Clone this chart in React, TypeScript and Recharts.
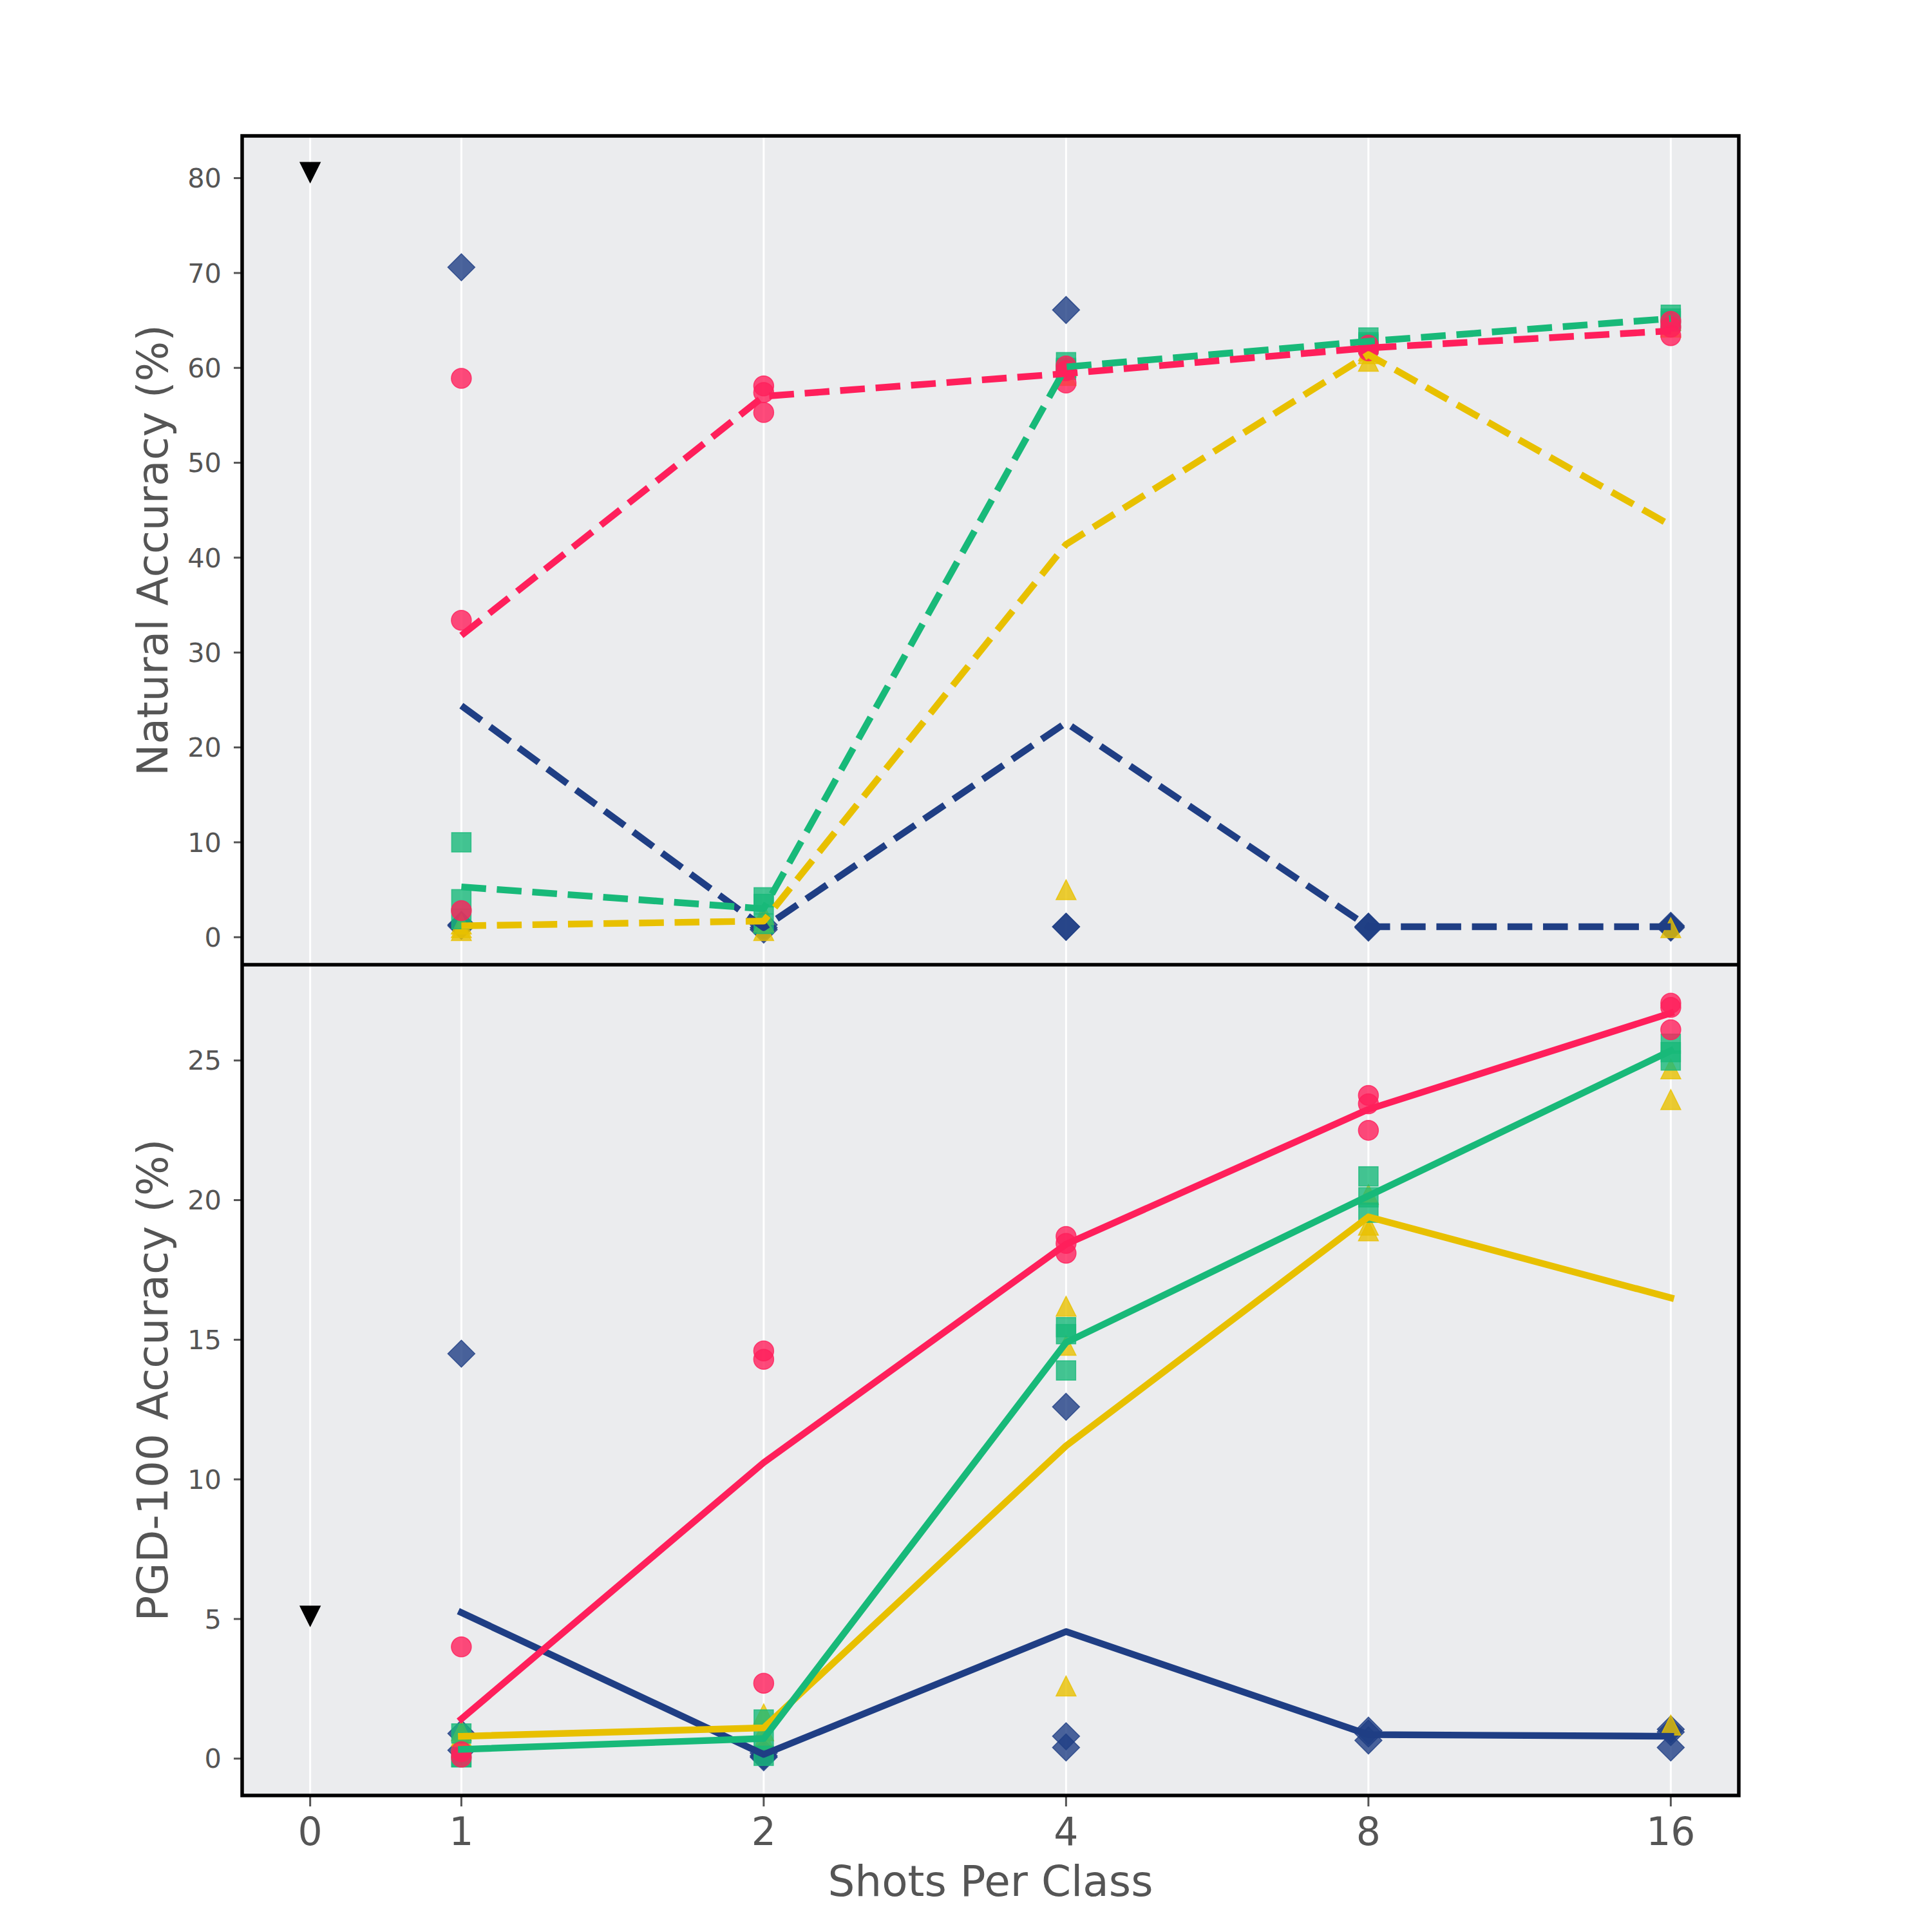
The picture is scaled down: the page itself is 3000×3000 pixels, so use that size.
import React from 'react';
import { ComposedChart, Scatter, Line, XAxis, YAxis, CartesianGrid, ReferenceArea, Label } from 'recharts';

// ---------- data ----------
const SHOTS = [1, 2, 4, 8, 16];
const BASELINE_SHOT = 0;
const X_TICK_SHOTS = [0, 1, 2, 4, 8, 16];
const X_TICK_LABELS = ['0', '1', '2', '4', '8', '16'];
const NAT_TICKS = [0, 10, 20, 30, 40, 50, 60, 70, 80];
const PGD_TICKS = [0, 5, 10, 15, 20, 25];

const NAT_BASELINE = 80.6;
const PGD_BASELINE = 5.1;

// Natural accuracy: three runs per shot count, and the mean line
const NAT_NAVY_RUNS = [[70.6, 1.3, 1.2], [1.3, 1.0, 0.8], [66.1, 1.1, 1.1], [1.1, 1.1, 1.0], [1.2, 1.1, 1.0]];
const NAT_NAVY_MEAN = [24.4, 1.0, 22.6, 1.1, 1.1];
const NAT_YELLOW_RUNS = [[1.4, 1.0, 0.7], [2.4, 1.6, 0.7], [60.1, 59.2, 5.0], [61.8, 61.5, 60.7], [65.0, 64.3, 1.0]];
const NAT_YELLOW_MEAN = [1.2, 1.7, 41.4, 61.4, 43.4];
const NAT_GREEN_RUNS = [[10.0, 4.0, 1.9], [4.2, 3.5, 1.4], [60.6, 60.0, 59.8], [63.2, 62.7, 62.5], [65.6, 65.2, 64.9]];
const NAT_GREEN_MEAN = [5.3, 3.0, 60.1, 62.8, 65.2];
const NAT_RED_RUNS = [[58.9, 33.4, 2.8], [58.1, 57.4, 55.3], [60.2, 59.7, 58.4], [62.4, 62.0, 61.8], [64.9, 64.3, 63.4]];
const NAT_RED_MEAN = [31.8, 57.0, 59.4, 62.1, 63.9];

// PGD-100 accuracy
const PGD_NAVY_RUNS = [[14.5, 0.9, 0.3], [0.2, 0.1, 0.05], [12.6, 0.8, 0.4], [1.0, 0.9, 0.65], [1.05, 0.95, 0.4]];
const PGD_NAVY_MEAN = [5.23, 0.15, 4.55, 0.86, 0.8];
const PGD_YELLOW_RUNS = [[1.0, 0.8, 0.6], [1.6, 1.0, 0.7], [16.2, 14.8, 2.6], [20.2, 19.1, 18.9], [24.7, 23.6, 1.2]];
const PGD_YELLOW_MEAN = [0.8, 1.1, 11.2, 19.4, 16.5];
const PGD_GREEN_RUNS = [[0.9, 0.05, 0.05], [1.4, 0.7, 0.1], [15.45, 15.2, 13.9], [20.85, 20.1, 19.55], [25.6, 25.3, 25.0]];
const PGD_GREEN_MEAN = [0.33, 0.72, 14.9, 20.15, 25.35];
const PGD_RED_RUNS = [[4.0, 0.25, 0.05], [14.6, 14.3, 2.7], [18.7, 18.45, 18.1], [23.75, 23.45, 22.5], [27.05, 26.9, 26.1]];
const PGD_RED_MEAN = [1.42, 10.6, 18.42, 23.25, 26.7];

// ---------- styling ----------
const FONT = 'DejaVu Sans';
const NAVY = '#1f3e84';
const YELLOW = '#e8c000';
const GREEN = '#18b979';
const RED = '#ff1f5b';
const BG = '#ebecee';
const TEXT = '#555555';
const X_DOMAIN: [number, number] = [-0.725, 4.225];
const NAT_DOMAIN: [number, number] = [-2.9, 84.45];
const PGD_DOMAIN: [number, number] = [-1.32, 28.43];

const shotPos = (s: number) => (s === 0 ? -0.5 : Math.log2(s));
const X_TICKS = X_TICK_SHOTS.map(shotPos);

const runsToPoints = (runs: number[][]) =>
  runs.flatMap((vals, i) => vals.map((v) => ({ x: shotPos(SHOTS[i]), y: v })));
const meanToPoints = (mean: number[]) => mean.map((v, i) => ({ x: shotPos(SHOTS[i]), y: v }));

// ---------- marker shapes ----------
const ALPHA = 0.8;
const makeShape = (kind: string, color: string, alpha = ALPHA) => (p: any) => {
  const { cx, cy } = p;
  if (cx == null || cy == null) return <g />;
  const common = { fill: color, fillOpacity: alpha, stroke: color, strokeOpacity: alpha, strokeWidth: 1.5 };
  if (kind === 'circle') return <circle cx={cx} cy={cy} r={15.5} {...common} />;
  if (kind === 'square') return <rect x={cx - 15} y={cy - 15} width={30} height={30} {...common} />;
  if (kind === 'diamond') {
    const h = 21;
    return <polygon points={`${cx},${cy - h} ${cx + h},${cy} ${cx},${cy + h} ${cx - h},${cy}`} {...common} />;
  }
  if (kind === 'triUp') {
    const h = 15.5;
    return <polygon points={`${cx},${cy - h} ${cx + h},${cy + h} ${cx - h},${cy + h}`} {...common} />;
  }
  const h = 15.5;
  return <polygon points={`${cx - h},${cy - h} ${cx + h},${cy - h} ${cx},${cy + h}`} {...common} />;
};

const yLabel = (text: string) => (props: any) => {
  const vb = props.viewBox || {};
  const x = (vb.x ?? 0) + 260;
  const y = (vb.y ?? 0) + (vb.height ?? 0) / 2;
  return (
    <text x={x} y={y} transform={`rotate(-90, ${x}, ${y})`} textAnchor="middle" fill={TEXT} fontSize={66} fontFamily={FONT}>
      {text}
    </text>
  );
};

const xLabel = (text: string) => (props: any) => {
  const vb = props.viewBox || {};
  const x = (vb.x ?? 0) + (vb.width ?? 0) / 2;
  const y = (vb.y ?? 0) + 156;
  return (
    <text x={x} y={y} textAnchor="middle" fill={TEXT} fontSize={66} fontFamily={FONT}>
      {text}
    </text>
  );
};

type SeriesDef = { runs: number[][]; mean: number[]; color: string; shape: string };

function Panel(props: {
  width: number;
  height: number;
  marginTop: number;
  domain: [number, number];
  ticks: number[];
  series: SeriesDef[];
  baseline: number;
  yTitle: string;
  dashed: boolean;
  showX: boolean;
}) {
  const { width, height, marginTop, domain, ticks, series, baseline, yTitle, dashed, showX } = props;
  return (
    <ComposedChart width={width} height={height} margin={{ top: marginTop, right: 300, bottom: 0, left: 0 }}>
      <CartesianGrid horizontal={false} vertical={true} stroke="#ffffff" strokeWidth={3} fill={BG} fillOpacity={1} />
      <XAxis
        type="number"
        dataKey="x"
        domain={X_DOMAIN}
        allowDataOverflow
        ticks={X_TICKS}
        interval={0}
        hide={!showX}
        height={showX ? 212 : 0}
        axisLine={false}
        tickLine={{ stroke: TEXT, strokeWidth: 3 }}
        tickSize={17}
        tickMargin={17}
        tick={{ fill: TEXT, fontSize: 60, fontFamily: FONT }}
        tickFormatter={(_v: any, i: number) => X_TICK_LABELS[i]}
      >
        {showX ? <Label content={xLabel('Shots Per Class')} /> : null}
      </XAxis>
      <YAxis
        type="number"
        dataKey="y"
        domain={domain}
        allowDataOverflow
        ticks={ticks}
        interval={0}
        width={376}
        axisLine={false}
        tickLine={{ stroke: TEXT, strokeWidth: 3 }}
        tickSize={13}
        tickMargin={19}
        tick={{ fill: TEXT, fontSize: 41.5, fontFamily: FONT }}
      >
        <Label content={yLabel(yTitle)} />
      </YAxis>
      <Scatter
        data={[{ x: shotPos(BASELINE_SHOT), y: baseline }]}
        dataKey="y"
        shape={makeShape('triDown', '#000000', 1)}
        isAnimationActive={false}
      />
      {series.map((s, i) => (
        <Scatter
          key={`sc${i}`}
          data={runsToPoints(s.runs)}
          dataKey="y"
          shape={makeShape(s.shape, s.color)}
          isAnimationActive={false}
        />
      ))}
      {series.map((s, i) => (
        <Line
          key={`ln${i}`}
          data={meanToPoints(s.mean)}
          dataKey="y"
          type="linear"
          stroke={s.color}
          strokeWidth={10.4}
          strokeDasharray={dashed ? '38.5 16.7' : undefined}
          strokeLinecap={dashed ? 'butt' : 'square'}
          strokeLinejoin="round"
          dot={false}
          activeDot={false}
          isAnimationActive={false}
          zIndex={700}
        />
      ))}
      <ReferenceArea
        x1={X_DOMAIN[0]}
        x2={X_DOMAIN[1]}
        y1={domain[0]}
        y2={domain[1]}
        fill="none"
        fillOpacity={0}
        stroke="#000000"
        strokeWidth={5.5}
        ifOverflow="visible"
        zIndex={800}
      />
    </ComposedChart>
  );
}

const NAT_SERIES: SeriesDef[] = [
  { runs: NAT_NAVY_RUNS, mean: NAT_NAVY_MEAN, color: NAVY, shape: 'diamond' },
  { runs: NAT_YELLOW_RUNS, mean: NAT_YELLOW_MEAN, color: YELLOW, shape: 'triUp' },
  { runs: NAT_GREEN_RUNS, mean: NAT_GREEN_MEAN, color: GREEN, shape: 'square' },
  { runs: NAT_RED_RUNS, mean: NAT_RED_MEAN, color: RED, shape: 'circle' },
];
const PGD_SERIES: SeriesDef[] = [
  { runs: PGD_NAVY_RUNS, mean: PGD_NAVY_MEAN, color: NAVY, shape: 'diamond' },
  { runs: PGD_YELLOW_RUNS, mean: PGD_YELLOW_MEAN, color: YELLOW, shape: 'triUp' },
  { runs: PGD_GREEN_RUNS, mean: PGD_GREEN_MEAN, color: GREEN, shape: 'square' },
  { runs: PGD_RED_RUNS, mean: PGD_RED_MEAN, color: RED, shape: 'circle' },
];

export default function App() {
  return (
    <div style={{ position: 'absolute', left: 0, top: 0, width: 3000, height: 3000, background: '#ffffff', fontFamily: FONT }}>
      <div style={{ position: 'absolute', left: 0, top: 0 }}>
        <Panel
          width={3000}
          height={1498}
          marginTop={211}
          domain={NAT_DOMAIN}
          ticks={NAT_TICKS}
          series={NAT_SERIES}
          baseline={NAT_BASELINE}
          yTitle="Natural Accuracy (%)"
          dashed={true}
          showX={false}
        />
      </div>
      <div style={{ position: 'absolute', left: 0, top: 1498 }}>
        <Panel
          width={3000}
          height={1502}
          marginTop={0}
          domain={PGD_DOMAIN}
          ticks={PGD_TICKS}
          series={PGD_SERIES}
          baseline={PGD_BASELINE}
          yTitle="PGD-100 Accuracy (%)"
          dashed={false}
          showX={true}
        />
      </div>
    </div>
  );
}
